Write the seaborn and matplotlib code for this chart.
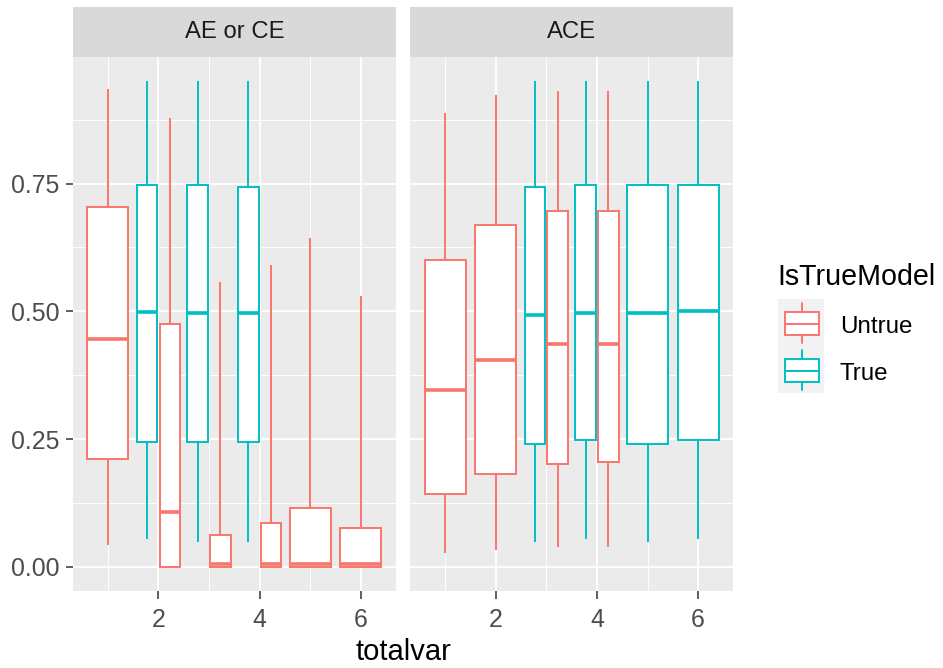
import numpy as np
import pandas as pd
import matplotlib
matplotlib.use("Agg")
import matplotlib.pyplot as plt
import seaborn as sns
from matplotlib.patches import Rectangle
from matplotlib.lines import Line2D

# ---------------- data ----------------
facets = ["AE or CE", "ACE"]
models = ["Untrue", "True"]
facet = ["AE or CE"] * 9 + ["ACE"] * 8
totalvar = [1, 2, 2, 3, 3, 4, 4, 5, 6,
            1, 2, 3, 3, 4, 4, 5, 6]
model = ["Untrue", "True", "Untrue", "True", "Untrue", "True", "Untrue", "Untrue", "Untrue",
         "Untrue", "Untrue", "True", "Untrue", "True", "Untrue", "True", "True"]
whislo = [0.042, 0.054, 0.000, 0.049, 0.000, 0.049, 0.000, 0.000, 0.000,
          0.026, 0.033, 0.049, 0.038, 0.054, 0.038, 0.049, 0.054]
q1 = [0.210, 0.245, 0.000, 0.245, 0.000, 0.245, 0.000, 0.000, 0.000,
      0.142, 0.182, 0.240, 0.201, 0.249, 0.205, 0.240, 0.249]
med = [0.445, 0.498, 0.108, 0.496, 0.005, 0.496, 0.005, 0.005, 0.005,
       0.346, 0.405, 0.493, 0.437, 0.496, 0.437, 0.496, 0.500]
q3 = [0.704, 0.748, 0.475, 0.748, 0.063, 0.744, 0.086, 0.115, 0.075,
      0.601, 0.669, 0.744, 0.696, 0.748, 0.696, 0.748, 0.748]
whishi = [0.935, 0.951, 0.879, 0.951, 0.558, 0.951, 0.591, 0.643, 0.531,
          0.888, 0.923, 0.951, 0.931, 0.951, 0.931, 0.951, 0.951]
x_ticks = [2, 4, 6]
y_ticks = [0.0, 0.25, 0.50, 0.75]
y_ticklabels = ["0.00", "0.25", "0.50", "0.75"]

df = pd.DataFrame(dict(facet=facet, totalvar=totalvar, model=model,
                       whislo=whislo, q1=q1, med=med, q3=q3, whishi=whishi))

palette = {"Untrue": "#F8766D", "True": "#00BFC4"}

# ---------------- style ----------------
sns.set_theme(style="darkgrid")
plt.rcParams["font.family"] = ["Liberation Sans", "DejaVu Sans"]
plt.rcParams["axes.facecolor"] = "#EBEBEB"
plt.rcParams["grid.color"] = "white"

W, H = 943, 668
FULL_W = 0.81
DODGE = 0.225
SUB_W = 0.405
LW = 1.4


def draw_boxes(data, **kws):
    ax = plt.gca()
    counts = data.groupby("totalvar")["model"].transform("count")
    for idx, r in data.iterrows():
        if counts[idx] > 1:
            width = SUB_W
            pos = r.totalvar + (-DODGE if r.model == "True" else DODGE)
        else:
            width = FULL_W
            pos = r.totalvar
        c = palette[r.model]
        stats = [dict(med=r.med, q1=r.q1, q3=r.q3, whislo=r.whislo,
                      whishi=r.whishi, fliers=[])]
        ax.bxp(stats, positions=[pos], widths=[width], patch_artist=True,
               showcaps=False, showfliers=False, manage_ticks=False,
               boxprops=dict(facecolor="white", edgecolor=c, linewidth=LW),
               whiskerprops=dict(color=c, linewidth=LW, solid_capstyle="butt"),
               medianprops=dict(color=c, linewidth=2.6, solid_capstyle="butt"))


g = sns.FacetGrid(df, col="facet", col_order=facets, sharex=True, sharey=True,
                  height=4, aspect=1, despine=False)
g.map_dataframe(draw_boxes)
fig = g.figure
fig.set_size_inches(W / 100, H / 100)

# limits with ggplot-like 5% expansion
xmin = min(totalvar) - FULL_W / 2
xmax = max(totalvar) + FULL_W / 2
xr = xmax - xmin
ylo, yhi = min(whislo), max(whishi)
yr = yhi - ylo

# panel geometry (pixels)
top_px, bot_px = 56.7, 591.0
lefts = [72.7, 410.0]
pw = 323.3
strip_h = 49.4

tick_col = "#4D4D4D"
for i, ax in enumerate(g.axes.flat):
    ax.set_position([lefts[i] / W, 1 - bot_px / H, pw / W, (bot_px - top_px) / H])
    ax.set_xlim(xmin - 0.05 * xr, xmax + 0.05 * xr)
    ax.set_ylim(ylo - 0.05 * yr, yhi + 0.05 * yr)
    ax.set_title("")
    ax.set_xlabel("")
    ax.set_ylabel("")
    ax.set_facecolor("#EBEBEB")
    for s in ax.spines.values():
        s.set_visible(False)
    ax.set_xticks(x_ticks)
    ax.set_xticks([1, 3, 5], minor=True)
    ax.set_yticks(y_ticks)
    ax.set_yticks([0.125, 0.375, 0.625, 0.875], minor=True)
    ax.grid(True, which="major", color="white", linewidth=1.3)
    ax.grid(True, which="minor", color="white", linewidth=0.7)
    ax.set_axisbelow(True)
    ax.tick_params(axis="both", which="major", length=5.4, width=1.1, color="#333333",
                   labelsize=17.9, labelcolor=tick_col, pad=4)
    ax.tick_params(axis="both", which="minor", length=0)
    ax.tick_params(axis="x", which="major", bottom=True, pad=6.5)
    if i == 0:
        ax.set_yticklabels(y_ticklabels)
        ax.tick_params(axis="y", left=True)
    else:
        ax.tick_params(axis="y", which="both", left=False, labelleft=False)
    # strip
    hfrac = strip_h / (bot_px - top_px)
    ax.add_patch(Rectangle((0, 1), 1, hfrac, transform=ax.transAxes,
                           facecolor="#D9D9D9", edgecolor="none", clip_on=False))
    ax.text(0.5, 1 + hfrac / 2, facets[i], transform=ax.transAxes, ha="center",
            va="center", fontsize=17.2, color="#1A1A1A")


def fx(x):
    return x / W


def fy(y):
    return 1 - y / H


# axis title
fig.text(fx((lefts[0] + lefts[1] + pw) / 2), fy(652), "totalvar", ha="center",
         va="center", fontsize=21.0, color="black")

# legend
fig.text(fx(777), fy(277), "IsTrueModel", ha="left", va="center", fontsize=20.6,
         color="black")
key_top = 299.3
key_h = 46.7
for k, m in enumerate(models):
    t = key_top + k * key_h
    fig.patches.append(Rectangle((fx(777.7), fy(t + key_h)), (824.3 - 777.7) / W, key_h / H,
                                 transform=fig.transFigure, facecolor="#F2F2F2",
                                 edgecolor="none"))
    c = palette[m]
    bt, bb = t + 13, t + 36
    xc = 802
    fig.patches.append(Rectangle((fx(785), fy(bb)), (819.3 - 785) / W, (bb - bt) / H,
                                 transform=fig.transFigure, facecolor="white",
                                 edgecolor=c, linewidth=LW))
    fig.lines.append(Line2D([fx(785), fx(819.3)], [fy(t + 24.7)] * 2,
                            transform=fig.transFigure, color=c, linewidth=LW))
    fig.lines.append(Line2D([fx(xc)] * 2, [fy(t + 4), fy(bt)],
                            transform=fig.transFigure, color=c, linewidth=LW))
    fig.lines.append(Line2D([fx(xc)] * 2, [fy(bb), fy(t + 44)],
                            transform=fig.transFigure, color=c, linewidth=LW))
    fig.text(fx(840), fy(t + 28), m, ha="left", va="center", fontsize=17.4,
             color="black")

fig.savefig("out.png", dpi=100, facecolor="white")
